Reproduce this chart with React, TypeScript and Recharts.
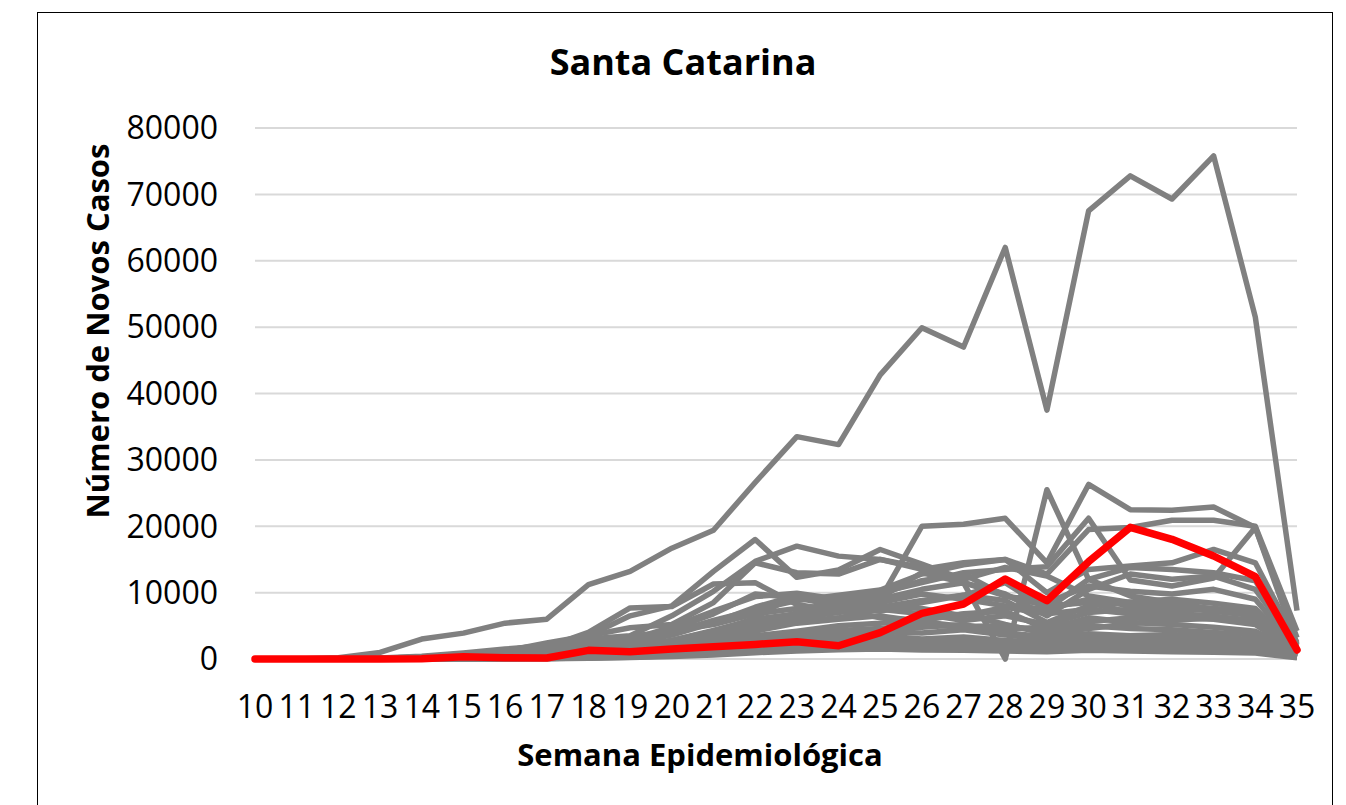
import * as React from 'react';
import { LineChart, Line, XAxis, YAxis, CartesianGrid } from 'recharts';

// semanas epidemiológicas 10..35
const semanas = [10, 11, 12, 13, 14, 15, 16, 17, 18, 19, 20, 21, 22, 23, 24, 25, 26, 27, 28, 29, 30, 31, 32, 33, 34, 35];
const yTicks = [0, 10000, 20000, 30000, 40000, 50000, 60000, 70000, 80000];

// Santa Catarina (vermelho)
const santaCatarina = [0, 0, 0, 10, 50, 350, 200, 150, 1300, 1100, 1500, 1850, 2200, 2600, 2000, 3970, 6880, 8290, 12050, 8790, 14660, 19840, 18030, 15520, 12400, 1360];

// demais estados (cinza)
const outro01 = [0, 0, 200, 1000, 3000, 3900, 5400, 6000, 11200, 13200, 16700, 19400, 26600, 33500, 32300, 42800, 49900, 47000, 62000, 37500, 67500, 72800, 69300, 75800, 51500, 7300];
const outro02 = [0, 0, 50, 150, 400, 900, 1500, 2000, 2600, 3400, 4200, 5200, 6800, 7600, 8200, 9000, 20000, 20300, 21200, 14500, 26300, 22500, 22400, 22900, 19800, 3200];
const outro03 = [0, 0, 30, 120, 300, 800, 1300, 2200, 3500, 6500, 8000, 13200, 18000, 12300, 13400, 16500, 14300, 12000, 13800, 12500, 9500, 8500, 8000, 7600, 7000, 1800];
const outro04 = [0, 0, 20, 100, 300, 700, 1200, 1800, 3000, 3500, 6500, 10200, 14700, 17000, 15500, 15000, 13500, 14500, 15000, 10000, 13500, 14000, 14500, 16500, 14500, 2500];
const outro05 = [0, 0, 0, 20, 80, 200, 400, 700, 1200, 1900, 2800, 4200, 5800, 6800, 7800, 9000, 10500, 11500, 0, 25500, 12000, 9500, 8500, 7500, 6500, 1200];
const outro06 = [0, 0, 10, 50, 150, 400, 700, 1100, 1800, 2900, 4800, 7200, 9400, 9900, 9000, 10000, 11500, 13000, 13500, 13900, 21200, 11900, 11000, 12200, 19800, 2200];
const outro07 = [0, 0, 10, 60, 200, 600, 1100, 1600, 2200, 3000, 4000, 5800, 7400, 8800, 9600, 10400, 12800, 14200, 15000, 12800, 19500, 19800, 20900, 20900, 20000, 4200];
const outro08 = [0, 0, 20, 80, 200, 600, 1000, 1800, 4000, 7700, 7900, 11300, 11500, 8200, 7200, 8500, 9800, 9000, 8000, 7500, 9000, 8000, 7800, 7200, 6500, 1500];
const outro09 = [0, 0, 20, 80, 250, 700, 1200, 2400, 3500, 4700, 5200, 8500, 14500, 13000, 12800, 15000, 13800, 11500, 9500, 8000, 8500, 7000, 6800, 6500, 5500, 1200];
const outro10 = [0, 0, 10, 50, 150, 500, 900, 1500, 2200, 3000, 4500, 6800, 9800, 9200, 8000, 7200, 8500, 9600, 11500, 7500, 12000, 13800, 13500, 13000, 11800, 2000];
const outro11 = [0, 0, 0, 20, 100, 300, 600, 1000, 1600, 2400, 3600, 5500, 7800, 9600, 8600, 8000, 7600, 6500, 7800, 6800, 7500, 6800, 6200, 6000, 5200, 1000];
const outro12 = [0, 0, 0, 20, 80, 250, 500, 800, 1200, 1900, 2800, 4300, 6000, 6800, 7500, 6200, 5800, 6800, 7200, 4500, 6200, 5500, 5200, 4800, 4200, 900];
const outro13 = [0, 0, 0, 10, 50, 150, 350, 600, 900, 1400, 2100, 3200, 4600, 5600, 6200, 7500, 6800, 5800, 6500, 5200, 7000, 7500, 7200, 7600, 7000, 1300];
const outro14 = [0, 0, 0, 10, 40, 120, 250, 450, 700, 1100, 1800, 2800, 4200, 5400, 6000, 6500, 5600, 4900, 5000, 4200, 5000, 4600, 4400, 4000, 3600, 700];
const outro15 = [0, 0, 0, 5, 30, 100, 200, 350, 550, 900, 1500, 2300, 3500, 4200, 5000, 5400, 6200, 6800, 5200, 3800, 4600, 5300, 5800, 6200, 5500, 1100];
const outro16 = [0, 0, 0, 5, 20, 60, 150, 250, 450, 800, 1300, 2000, 3000, 3600, 4200, 4500, 4800, 5200, 4000, 3300, 3800, 3500, 3700, 3300, 2900, 600];
const outro17 = [0, 0, 0, 2, 10, 40, 100, 200, 350, 650, 1100, 1700, 2600, 3200, 3600, 4100, 3900, 4400, 3600, 3000, 3600, 3300, 3100, 3000, 2700, 500];
const outro18 = [0, 0, 0, 2, 6, 20, 60, 140, 300, 550, 900, 1400, 2100, 2700, 3100, 3500, 3000, 3300, 2800, 2500, 3200, 2800, 2600, 2500, 2200, 400];
const outro19 = [0, 0, 0, 1, 5, 15, 50, 110, 250, 450, 750, 1200, 1800, 2300, 2600, 2900, 2400, 2700, 2300, 2100, 2600, 2300, 2200, 2000, 1800, 350];
const outro20 = [0, 0, 0, 1, 4, 12, 40, 90, 200, 360, 600, 950, 1500, 1900, 2200, 2400, 2000, 2200, 1900, 1800, 2100, 1900, 1800, 1700, 1500, 300];
const outro21 = [0, 0, 0, 1, 3, 10, 30, 70, 150, 280, 480, 750, 1200, 1500, 1800, 1900, 1700, 1600, 1500, 1400, 1700, 1500, 1450, 1300, 1200, 250];
const outro22 = [0, 0, 0, 1, 2, 8, 25, 55, 120, 220, 380, 600, 950, 1200, 1400, 1500, 1350, 1300, 1200, 1100, 1300, 1200, 1100, 1000, 900, 200];
const outro23 = [0, 0, 0, 10, 40, 120, 300, 500, 800, 1400, 2200, 3800, 6200, 9800, 8400, 9200, 13000, 11500, 9800, 6500, 10500, 12800, 12000, 12500, 10500, 1800];
const outro24 = [0, 0, 0, 5, 30, 100, 200, 350, 600, 1000, 1800, 3000, 4800, 7000, 8200, 9800, 11800, 12800, 9500, 8500, 11000, 10200, 9800, 10500, 9000, 1500];
const outro25 = [0, 0, 0, 10, 50, 150, 300, 550, 900, 1500, 2600, 4000, 5200, 6200, 7000, 7800, 8800, 9600, 8800, 5500, 8000, 8600, 9000, 8400, 7600, 1400];
const outro26 = [0, 0, 0, 1, 5, 20, 60, 150, 350, 700, 1200, 1900, 2900, 3800, 4300, 4600, 5200, 4800, 4500, 4800, 5600, 6200, 5900, 6400, 5800, 900];

const outrosEstados = [
  outro01, outro02, outro03, outro04, outro05, outro06, outro07, outro08, outro09, outro10, outro11, outro12, outro13,
  outro14, outro15, outro16, outro17, outro18, outro19, outro20, outro21, outro22, outro23, outro24, outro25, outro26,
];

const data = semanas.map((semana, i) => {
  const row: Record<string, number> = { semana, sc: santaCatarina[i] };
  outrosEstados.forEach((serie, j) => {
    row['o' + j] = serie[i];
  });
  return row;
});

const font = '"Open Sans", sans-serif';

export default function App() {
  return (
    <div style={{ position: 'absolute', left: 0, top: 0, width: 1346, height: 805, overflow: 'hidden', background: '#fff', fontFamily: font }}>
      <div style={{ position: 'absolute', left: 37, top: 12, width: 1296, height: 820, border: '1.5px solid #000', boxSizing: 'border-box' }} />
      <div style={{ position: 'absolute', left: 0, width: 1366, top: 37, textAlign: 'center', fontSize: 36, fontWeight: 700, color: '#000', lineHeight: '50px' }}>
        Santa Catarina
      </div>
      <div style={{ position: 'absolute', left: 255, width: 890, top: 733, textAlign: 'center', fontSize: 31, fontWeight: 700, color: '#000', lineHeight: '42px' }}>
        Semana Epidemiológica
      </div>
      <div style={{ position: 'absolute', left: 97, top: 331, width: 0, height: 0 }}>
        <div style={{ position: 'absolute', left: -250, top: -21, width: 500, textAlign: 'center', fontSize: 31, fontWeight: 700, color: '#000', lineHeight: '42px', transform: 'rotate(-90deg)' }}>
          Número de Novos Casos
        </div>
      </div>
      <div style={{ position: 'absolute', left: 0, top: 0 }}>
        <LineChart width={1346} height={805} data={data} margin={{ top: 128, right: 49, bottom: 46, left: 0 }}>
          <CartesianGrid vertical={false} stroke="#d9d9d9" strokeWidth={2} />
          <XAxis
            dataKey="semana"
            interval={0}
            axisLine={false}
            tickLine={false}
            tickSize={0}
            tickMargin={36}
            height={100}
            tick={{ fontSize: 32, fill: '#000', fontFamily: font }}
          />
          <YAxis
            domain={[0, 80000]}
            ticks={yTicks}
            width={255}
            axisLine={false}
            tickLine={false}
            tickSize={0}
            tickMargin={37}
            tick={{ fontSize: 32, fill: '#000', fontFamily: font }}
          />
          {outrosEstados.map((_, j) => (
            <Line
              key={j}
              type="linear"
              dataKey={'o' + j}
              stroke="#808080"
              strokeWidth={5.5}
              strokeLinejoin="round"
              dot={false}
              isAnimationActive={false}
            />
          ))}
          <Line type="linear" dataKey="sc" stroke="#ff0000" strokeWidth={7.5} strokeLinejoin="round" strokeLinecap="round" dot={false} isAnimationActive={false} />
        </LineChart>
      </div>
    </div>
  );
}
